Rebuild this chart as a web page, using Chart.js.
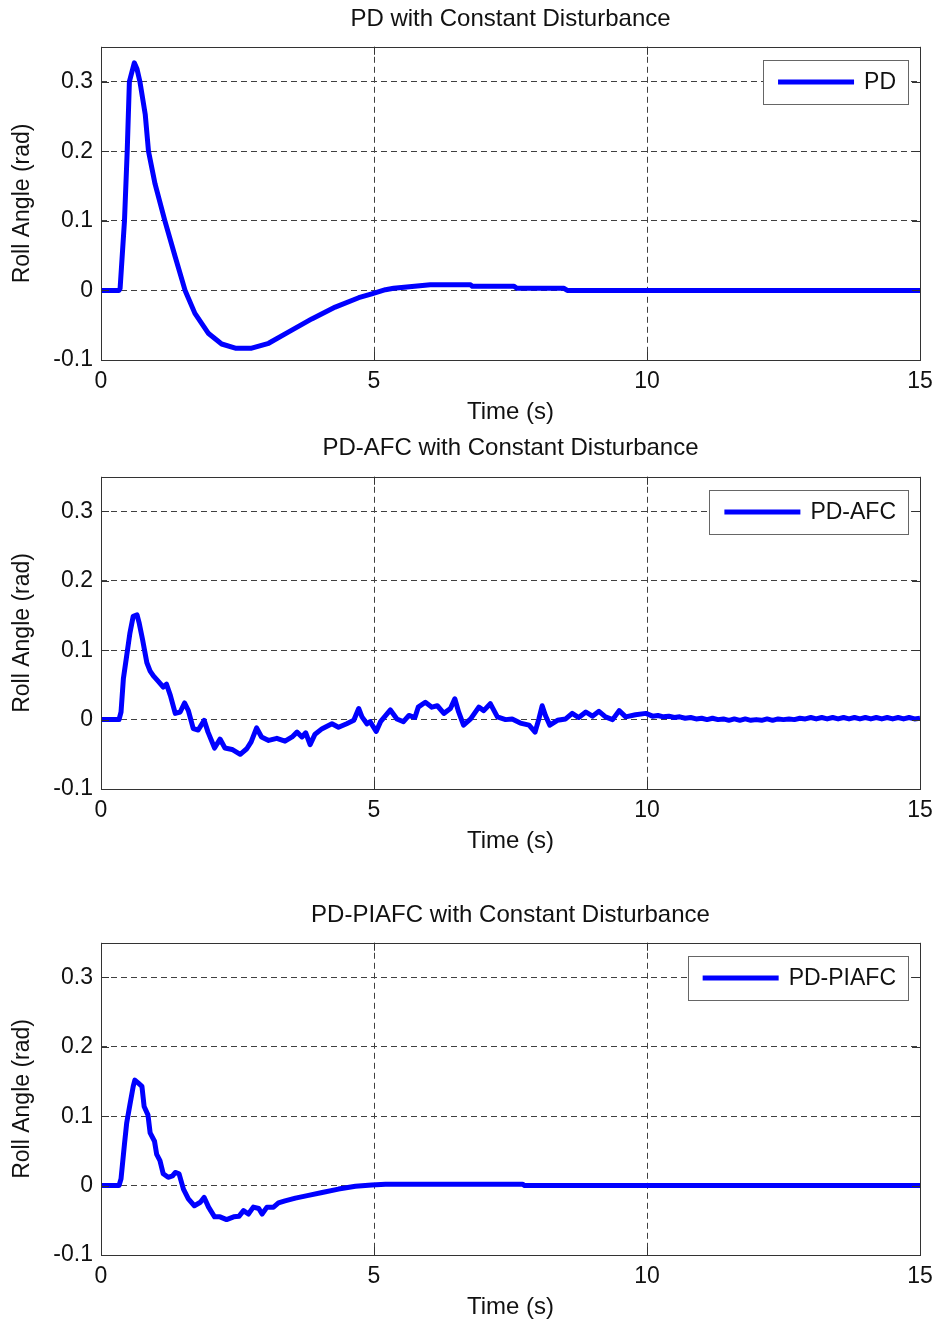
<!DOCTYPE html>
<html lang="en">
<head>
<meta charset="UTF-8">
<title>Roll angle with constant disturbance</title>
<script src="https://cdn.jsdelivr.net/npm/chart.js"></script>
<style>
  body { margin: 0; background: #fff; }
  .wrap { position: relative; width: 936px; height: 1322px; }
  canvas { position: absolute; left: 0; }
</style>
</head>
<body>
<div class="wrap">
  <canvas id="pdChart" width="936" height="430" style="top:0px"></canvas>
  <canvas id="afcChart" width="936" height="440" style="top:430px"></canvas>
  <canvas id="piafcChart" width="936" height="452" style="top:870px"></canvas>
</div>
<script>
// time (s) and roll angle (rad)
var pdTime = [0, 0.33, 0.35, 0.43, 0.48, 0.52, 0.61, 0.66, 0.715, 0.81,
              0.87, 0.99, 1.17, 1.36, 1.54, 1.72, 1.97, 2.21, 2.46, 2.76,
              3.07, 3.43, 3.86, 4.29, 4.72, 4.96, 5.21, 5.36, 5.6, 6.03,
              6.77, 6.8, 7.56, 7.62, 8.48, 8.54, 15];
var pdRoll = [0, 0, 0.003, 0.1, 0.2, 0.3, 0.327, 0.318, 0.299, 0.253,
              0.2, 0.153, 0.1, 0.048, 0, -0.033, -0.062, -0.077, -0.083, -0.083,
              -0.076, -0.06, -0.041, -0.024, -0.0105, -0.005, 0.001, 0.003, 0.005, 0.008,
              0.008, 0.006, 0.006, 0.003, 0.003, 0, 0];

var afcTime = [0, 0.33, 0.367, 0.41, 0.47, 0.53, 0.59, 0.66, 0.70, 0.76,
               0.84, 0.90, 0.96, 1.05, 1.14, 1.20, 1.27, 1.36, 1.45, 1.53,
               1.60, 1.69, 1.78, 1.89, 1.96, 2.08, 2.18, 2.27, 2.40, 2.55,
               2.67, 2.75, 2.85, 2.94, 3.07, 3.22, 3.37, 3.50, 3.59, 3.68,
               3.75, 3.83, 3.92, 4.05, 4.23, 4.35, 4.50, 4.63, 4.72, 4.78,
               4.87, 4.93, 5.04, 5.12, 5.30, 5.42, 5.54, 5.64, 5.75, 5.81,
               5.94, 6.06, 6.16, 6.28, 6.40, 6.48, 6.55, 6.64, 6.77, 6.92,
               7.01, 7.13, 7.26, 7.41, 7.53, 7.68, 7.84, 7.95, 8.02, 8.08,
               8.14, 8.22, 8.36, 8.51, 8.63, 8.75, 8.88, 9.00, 9.12, 9.24,
               9.37, 9.49, 9.61, 9.79, 9.98, 10.1, 10.2, 10.3, 10.4, 10.5,
               10.6, 10.7, 10.8, 10.9, 11.0, 11.1, 11.2, 11.3, 11.4, 11.5,
               11.6, 11.7, 11.8, 11.9, 12.0, 12.1, 12.2, 12.3, 12.4, 12.5,
               12.6, 12.7, 12.8, 12.9, 13.0, 13.1, 13.2, 13.3, 13.4, 13.5,
               13.6, 13.7, 13.8, 13.9, 14.0, 14.1, 14.2, 14.3, 14.4, 14.5,
               14.6, 14.7, 14.8, 14.9, 15.0];
var afcRoll = [0, 0, 0.011, 0.059, 0.092, 0.125, 0.149, 0.151, 0.139, 0.116,
               0.082, 0.070, 0.063, 0.055, 0.047, 0.051, 0.035, 0.009, 0.011, 0.024,
               0.013, -0.013, -0.015, -0.001, -0.018, -0.041, -0.028, -0.041, -0.043, -0.050,
               -0.042, -0.032, -0.012, -0.025, -0.030, -0.027, -0.031, -0.025, -0.018, -0.025,
               -0.019, -0.036, -0.021, -0.013, -0.006, -0.011, -0.006, -0.001, 0.016, 0.004,
               -0.006, -0.003, -0.017, -0.003, 0.014, 0.001, -0.003, 0.006, 0.003, 0.018,
               0.025, 0.018, 0.020, 0.009, 0.016, 0.030, 0.011, -0.008, 0.001, 0.018,
               0.013, 0.023, 0.004, 0.000, 0.001, -0.005, -0.008, -0.018, 0.001, 0.020,
               0.006, -0.008, -0.001, 0.001, 0.009, 0.003, 0.011, 0.005, 0.012, 0.004,
               0.000, 0.013, 0.004, 0.007, 0.009, 0.005, 0.006, 0.004, 0.005, 0.003,
               0.004, 0.002, 0.003, 0.001, 0.002, 0.000, 0.002, 0.000, 0.001, -0.001,
               0.001, -0.001, 0.001, -0.001, 0.000, -0.001, 0.001, -0.001, 0.001, 0.000,
               0.001, 0.000, 0.002, 0.001, 0.003, 0.001, 0.003, 0.001, 0.003, 0.001,
               0.003, 0.001, 0.003, 0.001, 0.003, 0.001, 0.003, 0.001, 0.003, 0.001,
               0.003, 0.001, 0.003, 0.001, 0.002];

var piafcTime = [0, 0.33, 0.367, 0.43, 0.47, 0.53, 0.59, 0.62, 0.68, 0.75,
                 0.79, 0.86, 0.90, 0.98, 1.02, 1.08, 1.14, 1.23, 1.31, 1.36,
                 1.43, 1.51, 1.60, 1.71, 1.82, 1.89, 1.97, 2.08, 2.18, 2.30,
                 2.43, 2.53, 2.61, 2.70, 2.79, 2.89, 2.95, 3.04, 3.16, 3.25,
                 3.37, 3.56, 3.80, 4.05, 4.35, 4.66, 4.96, 5.21, 7.72, 7.76, 15];
var piafcRoll = [0, 0, 0.010, 0.060, 0.090, 0.117, 0.143, 0.152, 0.148, 0.143,
                 0.114, 0.102, 0.076, 0.064, 0.045, 0.036, 0.017, 0.012, 0.014, 0.019,
                 0.017, -0.005, -0.019, -0.029, -0.024, -0.017, -0.031, -0.045, -0.045, -0.049,
                 -0.045, -0.044, -0.036, -0.041, -0.031, -0.033, -0.041, -0.031, -0.031, -0.025,
                 -0.022, -0.018, -0.014, -0.010, -0.005, -0.001, 0.001, 0.002, 0.002, 0, 0];

var FONT = "'Liberation Sans', Arial, sans-serif";
var TEXT = '#111';
var GRID = '#404040';
var LINE_W = 5;

// full frame around the plot with small inward ticks (matlab style)
var framePlugin = {
    id: 'frame',
    afterDatasetsDraw: function (chart) {
        var ctx = chart.ctx, a = chart.chartArea;
        var xs = chart.scales.x, ys = chart.scales.y;
        ctx.save();
        ctx.strokeStyle = '#333';
        ctx.lineWidth = 1;
        ctx.strokeRect(Math.round(a.left) + 0.5, Math.round(a.top) + 0.5,
            Math.round(a.right - a.left), Math.round(a.bottom - a.top));
        ctx.beginPath();
        xs.ticks.forEach(function (t) {
            var px = Math.round(xs.getPixelForValue(t.value)) + 0.5;
            ctx.moveTo(px, a.bottom); ctx.lineTo(px, a.bottom - 8);
            ctx.moveTo(px, a.top); ctx.lineTo(px, a.top + 8);
        });
        ys.ticks.forEach(function (t) {
            var py = Math.round(ys.getPixelForValue(t.value)) + 0.5;
            ctx.moveTo(a.left, py); ctx.lineTo(a.left + 8, py);
            ctx.moveTo(a.right, py); ctx.lineTo(a.right - 8, py);
        });
        ctx.stroke();
        ctx.restore();
    }
};

// boxed legend in the top right corner of the plot
var legendBoxPlugin = {
    id: 'legendBox',
    afterDraw: function (chart) {
        var ctx = chart.ctx, a = chart.chartArea;
        var ds = chart.data.datasets[0];
        ctx.save();
        ctx.font = '23px ' + FONT;
        var tw = ctx.measureText(ds.label).width;
        var w = 15 + 76 + 10 + tw + 12, h = 44;
        var right = Math.round(a.right) - 12, top = Math.round(a.top) + 13;
        var left = right - w;
        ctx.fillStyle = '#fff';
        ctx.fillRect(left, top, w, h);
        ctx.strokeStyle = '#666';
        ctx.lineWidth = 1;
        ctx.strokeRect(Math.round(left) + 0.5, top + 0.5, Math.round(w), h);
        ctx.strokeStyle = ds.borderColor;
        ctx.lineWidth = LINE_W;
        ctx.beginPath();
        ctx.moveTo(left + 15, top + h / 2);
        ctx.lineTo(left + 91, top + h / 2);
        ctx.stroke();
        ctx.fillStyle = TEXT;
        ctx.textBaseline = 'middle';
        ctx.fillText(ds.label, left + 101, top + h / 2 + 1);
        ctx.restore();
    }
};

function edgeGrid(edges) {
    return function (c) {
        if (!c.tick) return GRID;
        for (var i = 0; i < edges.length; i++) {
            if (Math.abs(c.tick.value - edges[i]) < 1e-9) return 'rgba(0,0,0,0)';
        }
        return GRID;
    };
}

function makeChart(id, label, title, times, values, lay) {
    var points = times.map(function (t, i) { return { x: t, y: values[i] }; });
    return new Chart(document.getElementById(id), {
        type: 'line',
        data: {
            datasets: [{
                label: label,
                data: points,
                borderColor: '#0000ff',
                borderWidth: LINE_W,
                borderJoinStyle: 'round',
                pointRadius: 0,
                tension: 0,
                fill: false
            }]
        },
        options: {
            responsive: false,
            animation: false,
            layout: { padding: { left: 0, right: 16, top: 0, bottom: 0 } },
            plugins: {
                legend: { display: false },
                tooltip: { enabled: false },
                title: {
                    display: true,
                    text: title,
                    fullSize: false,
                    color: TEXT,
                    font: { family: FONT, size: 24, weight: 'normal' },
                    padding: { top: lay.titleTop, bottom: lay.titleBottom }
                }
            },
            scales: {
                x: {
                    type: 'linear',
                    min: 0,
                    max: 15,
                    afterFit: function (s) {
                        s.height = lay.xHeight;
                        s.paddingLeft = 0;
                        s.paddingRight = 0;
                    },
                    ticks: { stepSize: 5, padding: 8, maxRotation: 0, color: TEXT,
                             font: { family: FONT, size: 23 } },
                    grid: { drawTicks: false, color: edgeGrid([0, 15]), lineWidth: 1 },
                    border: { display: false, dash: [6, 4] },
                    title: { display: true, text: 'Time (s)', color: TEXT,
                             font: { family: FONT, size: 24 },
                             padding: { top: 0, bottom: lay.xTitleBottom } }
                },
                y: {
                    min: -0.1,
                    max: 0.35,
                    afterFit: function (s) { s.width = 101; },
                    ticks: { stepSize: 0.1, includeBounds: false, padding: 8, color: TEXT,
                             font: { family: FONT, size: 23 } },
                    grid: { drawTicks: false, color: edgeGrid([-0.1]), lineWidth: 1 },
                    border: { display: false, dash: [6, 4] },
                    title: { display: true, text: 'Roll Angle (rad)', color: TEXT,
                             font: { family: FONT, size: 23 },
                             padding: { top: 9, bottom: 0 } }
                }
            }
        },
        plugins: [framePlugin, legendBoxPlugin]
    });
}

makeChart('pdChart', 'PD', 'PD with Constant Disturbance', pdTime, pdRoll,
    { titleTop: 5, titleBottom: 13, xHeight: 70, xTitleBottom: 3 });
makeChart('afcChart', 'PD-AFC', 'PD-AFC with Constant Disturbance', afcTime, afcRoll,
    { titleTop: 4, titleBottom: 14, xHeight: 81, xTitleBottom: 14 });
makeChart('piafcChart', 'PD-PIAFC', 'PD-PIAFC with Constant Disturbance', piafcTime, piafcRoll,
    { titleTop: 31, titleBottom: 13, xHeight: 67, xTitleBottom: 0 });
</script>
</body>
</html>
